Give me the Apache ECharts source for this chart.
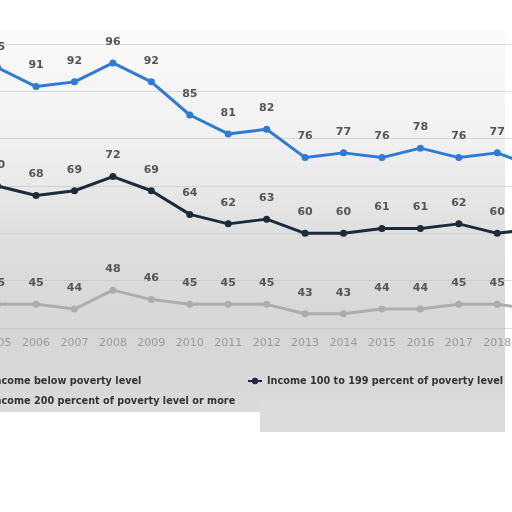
<!DOCTYPE html>
<html><head><meta charset="utf-8">
<script src="https://cdn.jsdelivr.net/npm/echarts@6/dist/echarts.min.js"></script>
<style>html,body{margin:0;padding:0;background:#fff}#c{width:512px;height:512px}</style>
</head><body><div id="c"></div>
<script>
const years = ['2005','2006','2007','2008','2009','2010','2011','2012','2013','2014','2015','2016','2017','2018','2019'];
const belowPoverty = [95,91,92,96,92,85,81,82,76,77,76,78,76,77,74];
const income100to199 = [70,68,69,72,69,64,62,63,60,60,61,61,62,60,61];
const income200plus = [45,45,44,48,46,45,45,45,43,43,44,44,45,45,44];
const seriesNames = ['Income below poverty level','Income 100 to 199 percent of poverty level','Income 200 percent of poverty level or more'];
const colors = ['#2f7ad6','#1c2b3b','#adadad'];

const chart = echarts.init(document.getElementById('c'));
const labelStyle = {show:true, position:'top', distance:12, fontFamily:'DejaVu Sans', fontSize:11, fontWeight:'bold', color:'#555'};
function mk(name, data, color){
  return {name, type:'line', data, symbol:'circle', symbolSize:7, color,
    lineStyle:{width:3, color}, itemStyle:{color}, label:labelStyle, z:3};
}
const legendText = {fontFamily:'DejaVu Sans', fontSize:9.7, fontWeight:'bold', color:'#333'};
chart.setOption({
  backgroundColor:'#fff',
  animation:false,
  graphic:[{type:'rect', z:-10, silent:true, shape:{x:0,y:30,width:505,height:382},
    style:{fill:new echarts.graphic.LinearGradient(0,0,0,1,[
      {offset:0,color:'#fafafa'},{offset:0.3,color:'#f0f0f0'},{offset:0.55,color:'#dedede'},{offset:0.8,color:'#d6d6d6'},{offset:1,color:'#dadada'}])}},
    {type:'rect', z:-10, silent:true, shape:{x:260,y:400,width:245,height:32}, style:{fill:'#dcdcdc'}}],
  grid:{left:-21.6, width:576.5, top:44, height:284, containLabel:false, outerBoundsMode:'none'},
  xAxis:{type:'category', data:years, boundaryGap:true,
    axisLine:{show:false}, axisTick:{show:false},
    axisLabel:{interval:0, color:'#999', fontFamily:'DejaVu Sans', fontSize:11, margin:10}},
  yAxis:{type:'value', min:40, max:100, interval:10,
    axisLabel:{show:false}, axisLine:{show:false}, axisTick:{show:false},
    splitLine:{lineStyle:{type:'dotted', color:'#bbb'}}},
  legend:[
    {data:[seriesNames[0],seriesNames[2]], orient:'vertical', left:-34, top:371, itemGap:10, itemWidth:14, itemHeight:8,
      textStyle:legendText},
    {data:[seriesNames[1]], orient:'horizontal', left:242, top:371, itemWidth:14, itemHeight:8,
      textStyle:legendText}
  ],
  series:[mk(seriesNames[0],belowPoverty,colors[0]), mk(seriesNames[1],income100to199,colors[1]), mk(seriesNames[2],income200plus,colors[2])]
});
</script></body></html>
